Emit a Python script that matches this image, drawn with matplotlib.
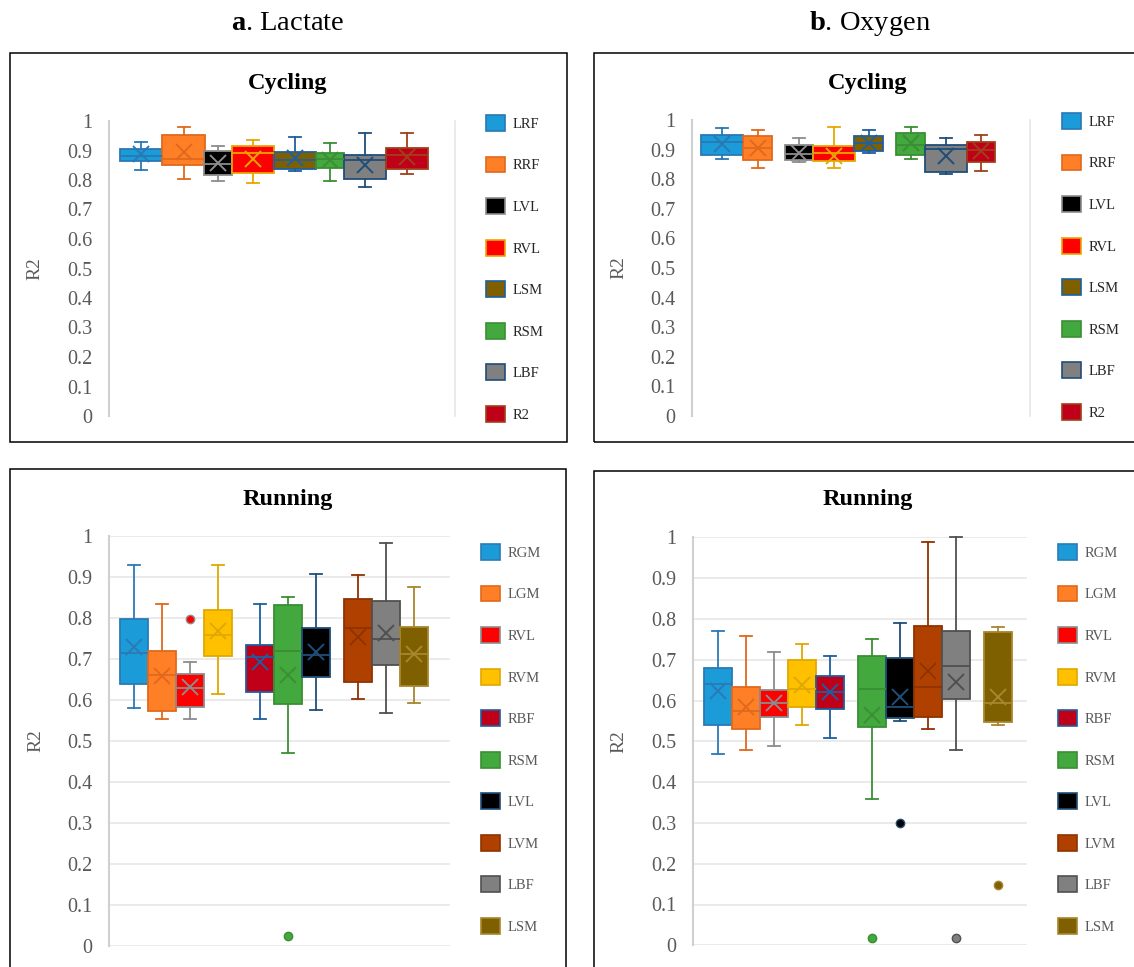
import matplotlib
matplotlib.use("Agg")
import matplotlib.pyplot as plt
from matplotlib.patches import Patch, Rectangle

plt.rcParams["font.family"] = ["Liberation Serif", "DejaVu Serif"]
plt.rcParams["mathtext.fontset"] = "custom"
plt.rcParams["mathtext.rm"] = "Liberation Serif"
plt.rcParams["mathtext.bf"] = "Liberation Serif:bold"

# ---- a. Lactate / Cycling ----
lc_names = ["LRF", "RRF", "LVL", "RVL", "LSM", "RSM", "LBF", "R2"]
lc_whislo = [0.834, 0.803, 0.797, 0.791, 0.832, 0.797, 0.777, 0.820]
lc_q1 = [0.865, 0.850, 0.816, 0.823, 0.837, 0.840, 0.803, 0.837]
lc_med = [0.880, 0.870, 0.855, 0.893, 0.868, 0.870, 0.868, 0.885]
lc_q3 = [0.904, 0.951, 0.899, 0.915, 0.896, 0.890, 0.885, 0.908]
lc_whishi = [0.930, 0.981, 0.916, 0.936, 0.947, 0.927, 0.958, 0.958]
lc_mean = [0.887, 0.896, 0.859, 0.870, 0.873, 0.868, 0.851, 0.879]
lc_fliers = [[], [], [], [], [], [], [], []]

# ---- b. Oxygen / Cycling ----
oc_names = ["LRF", "RRF", "LVL", "RVL", "LSM", "RSM", "LBF", "R2"]
oc_whislo = [0.868, 0.837, 0.857, 0.837, 0.887, 0.868, 0.817, 0.828]
oc_q1 = [0.881, 0.865, 0.864, 0.860, 0.894, 0.882, 0.825, 0.857]
oc_med = [0.924, 0.907, 0.885, 0.887, 0.921, 0.915, 0.902, 0.899]
oc_q3 = [0.949, 0.945, 0.915, 0.911, 0.947, 0.956, 0.915, 0.927]
oc_whishi = [0.972, 0.967, 0.938, 0.975, 0.967, 0.975, 0.938, 0.949]
oc_mean = [0.919, 0.904, 0.890, 0.879, 0.921, 0.921, 0.879, 0.896]
oc_fliers = [[], [], [], [], [], [], [], []]

# ---- a. Lactate / Running ----
lr_names = ["RGM", "LGM", "RVL", "RVM", "RBF", "RSM", "LVL", "LVM", "LBF", "LSM"]
lr_whislo = [0.580, 0.552, 0.552, 0.613, 0.554, 0.469, 0.575, 0.601, 0.568, 0.591]
lr_q1 = [0.638, 0.572, 0.583, 0.707, 0.619, 0.590, 0.655, 0.643, 0.685, 0.633]
lr_med = [0.713, 0.660, 0.629, 0.757, 0.705, 0.719, 0.709, 0.774, 0.748, 0.711]
lr_q3 = [0.798, 0.719, 0.663, 0.820, 0.733, 0.830, 0.775, 0.846, 0.841, 0.777]
lr_whishi = [0.928, 0.833, 0.692, 0.929, 0.833, 0.850, 0.907, 0.905, 0.981, 0.876]
lr_mean = [0.729, 0.659, 0.632, 0.768, 0.693, 0.660, 0.717, 0.754, 0.763, 0.711]
lr_fliers = [[], [], [0.797], [], [], [0.024], [], [], [], []]

# ---- b. Oxygen / Running ----
or_names = ["RGM", "LGM", "RVL", "RVM", "RBF", "RSM", "LVL", "LVM", "LBF", "LSM"]
or_whislo = [0.469, 0.479, 0.489, 0.539, 0.509, 0.359, 0.549, 0.529, 0.479, 0.539]
or_q1 = [0.539, 0.531, 0.559, 0.583, 0.579, 0.536, 0.556, 0.560, 0.604, 0.548]
or_med = [0.640, 0.574, 0.594, 0.628, 0.620, 0.628, 0.584, 0.634, 0.685, 0.595]
or_q3 = [0.680, 0.632, 0.626, 0.699, 0.659, 0.708, 0.704, 0.782, 0.770, 0.768]
or_whishi = [0.770, 0.759, 0.719, 0.739, 0.709, 0.750, 0.789, 0.989, 1.000, 0.779]
or_mean = [0.624, 0.583, 0.595, 0.638, 0.620, 0.565, 0.609, 0.673, 0.645, 0.609]
or_fliers = [[], [], [], [], [], [0.019], [0.299], [], [0.019], [0.149]]

# fill / outline colours
cyc_fill = ["#1b9bd7", "#ff7f27", "#000000", "#ff0000", "#7f6000", "#43a83d", "#808080", "#c00018"]
cyc_edge = ["#2a78b4", "#e0691c", "#8c8c8c", "#e8a600", "#1f5fa0", "#3a8f35", "#1f4e79", "#a0401a"]
run_fill = ["#1b9bd7", "#ff7f27", "#ff0000", "#ffc000", "#c00018",
            "#43a83d", "#000000", "#b04000", "#808080", "#7f6000"]
run_edge = ["#2a7ab6", "#e0691c", "#8c8c8c", "#e0a800", "#1f5fa0",
            "#3a8f35", "#1f4e79", "#8f3300", "#505050", "#a8862e"]

W, H = 1134, 967
fig = plt.figure(figsize=(W / 100, H / 100), dpi=100)


def px_axes(x0, y0, x1, y1):
    """Axes from pixel box (top-left origin)."""
    return fig.add_axes([x0 / W, 1 - y1 / H, (x1 - x0) / W, (y1 - y0) / H])


def make_stats(names, lo, q1, med, q3, hi, mean, fliers):
    return [dict(label=n, whislo=a, q1=b, med=c, q3=d, whishi=e, mean=m, fliers=f)
            for n, a, b, c, d, e, m, f in zip(names, lo, q1, med, q3, hi, mean, fliers)]


def draw_panel(ax, stats, pos, widths, fills, edges, xmax, grid, lab_x):
    bp = ax.bxp(stats, positions=pos, widths=widths, capwidths=12, patch_artist=True,
                showmeans=True, manage_ticks=False)
    for i, (fc, ec) in enumerate(zip(fills, edges)):
        bp["boxes"][i].set(facecolor=fc, edgecolor=ec, linewidth=1.3)
        bp["medians"][i].set(color=ec, linewidth=1.3)
        for ln in bp["whiskers"][2 * i:2 * i + 2] + bp["caps"][2 * i:2 * i + 2]:
            ln.set(color=ec, linewidth=1.3, clip_on=False)
        bp["means"][i].set(marker="x", markeredgecolor=ec, markersize=11, markeredgewidth=1.4)
        bp["fliers"][i].set(marker="o", markerfacecolor=fc, markeredgecolor=ec,
                            markersize=6, markeredgewidth=1)
    ax.set_xlim(0, xmax)
    ax.set_ylim(0, 1)
    ax.set_xticks([])
    ticks = [i / 10 for i in range(11)]
    ax.set_yticks(ticks)
    ax.set_yticklabels(["0" if t == 0 else ("1" if t == 1 else f"{t:.1f}") for t in ticks])
    ax.tick_params(axis="y", length=0, pad=12, labelsize=14.5, labelcolor="#595959")
    for s in ["top", "bottom", "right"]:
        ax.spines[s].set_visible(False)
    ax.spines["left"].set(color="#d0d0d0", linewidth=1.5)
    if grid:
        ax.yaxis.grid(True, color="#e6e6e6", linewidth=1.2)
        ax.set_axisbelow(True)
    else:
        ax.spines["right"].set_visible(True)
        ax.spines["right"].set(color="#e6e6e6", linewidth=1.2)
    ax.set_ylabel("R2", fontsize=14, color="#595959")
    ax.yaxis.set_label_coords(lab_x, 0.5)


def draw_legend(ax, names, fills, edges, x, y, color):
    handles = [Patch(facecolor=f, edgecolor=e, linewidth=1.2, label=n)
               for n, f, e in zip(names, fills, edges)]
    ax.legend(handles=handles, loc="upper left", bbox_to_anchor=(x / W, 1 - y / H),
              bbox_transform=fig.transFigure, frameon=False, fontsize=10.5,
              handlelength=1.3, handleheight=1.3, handletextpad=0.55,
              labelspacing=1.76, borderpad=0, borderaxespad=0, labelcolor=color)


# panel frames
for x0, y0, x1, y1 in [(10, 53, 567, 442), (594, 53, 1151, 442),
                       (10, 469, 566, 995), (594, 471, 1151, 995)]:
    fig.add_artist(Rectangle((x0 / W, 1 - y1 / H), (x1 - x0) / W, (y1 - y0) / H,
                             transform=fig.transFigure, fill=False, ec="black", lw=1.1))

# column headings
fig.text(288 / W, 1 - 23 / H, r"$\mathbf{a}$. Lactate", ha="center", va="center", fontsize=20.5)
fig.text(870 / W, 1 - 23 / H, r"$\mathbf{b}$. Oxygen", ha="center", va="center", fontsize=20.5)

# Lactate cycling
ax1 = px_axes(109, 121, 455, 416)
draw_panel(ax1, make_stats(lc_names, lc_whislo, lc_q1, lc_med, lc_q3, lc_whishi, lc_mean, lc_fliers),
           [32, 74.5, 109, 144, 186, 221, 256, 298], [42, 43, 28, 42, 42, 28, 42, 42],
           cyc_fill, cyc_edge, 346, False, -0.19)
draw_legend(ax1, lc_names, cyc_fill, cyc_edge, 486, 115, "#262626")
fig.text(288 / W, 1 - 83 / H, "Cycling", ha="center", va="center", fontsize=17.5, fontweight="bold")

# Oxygen cycling
ax2 = px_axes(692, 120, 1030, 416)
draw_panel(ax2, make_stats(oc_names, oc_whislo, oc_q1, oc_med, oc_q3, oc_whishi, oc_mean, oc_fliers),
           [30, 65.5, 107, 142, 176.5, 218.5, 254, 289], [42.6, 29, 28, 42, 29, 29, 42, 28],
           cyc_fill, cyc_edge, 338, False, -0.19)
draw_legend(ax2, oc_names, cyc_fill, cyc_edge, 1062, 113, "#262626")
fig.text(868 / W, 1 - 83 / H, "Cycling", ha="center", va="center", fontsize=17.5, fontweight="bold")

# Lactate running
ax3 = px_axes(109, 535.7, 450, 945.7)
draw_panel(ax3, make_stats(lr_names, lr_whislo, lr_q1, lr_med, lr_q3, lr_whishi, lr_mean, lr_fliers),
           [25 + 28 * k for k in [0, 1, 2, 3, 4.5, 5.5, 6.5, 8, 9, 10]], 28,
           run_fill, run_edge, 341, True, -0.19)
draw_legend(ax3, lr_names, run_fill, run_edge, 481, 544, "#595959")
fig.text(288 / W, 1 - 499 / H, "Running", ha="center", va="center", fontsize=17.5, fontweight="bold")

# Oxygen running
ax4 = px_axes(692.7, 537.3, 1027, 945.3)
draw_panel(ax4, make_stats(or_names, or_whislo, or_q1, or_med, or_q3, or_whishi, or_mean, or_fliers),
           [25.3 + 28 * k for k in [0, 1, 2, 3, 4, 5.5, 6.5, 7.5, 8.5, 10]], 28,
           run_fill, run_edge, 334.3, True, -0.195)
draw_legend(ax4, or_names, run_fill, run_edge, 1058, 544, "#595959")
fig.text(868 / W, 1 - 500 / H, "Running", ha="center", va="center", fontsize=17.5, fontweight="bold")

fig.savefig("out.png", dpi=100)
